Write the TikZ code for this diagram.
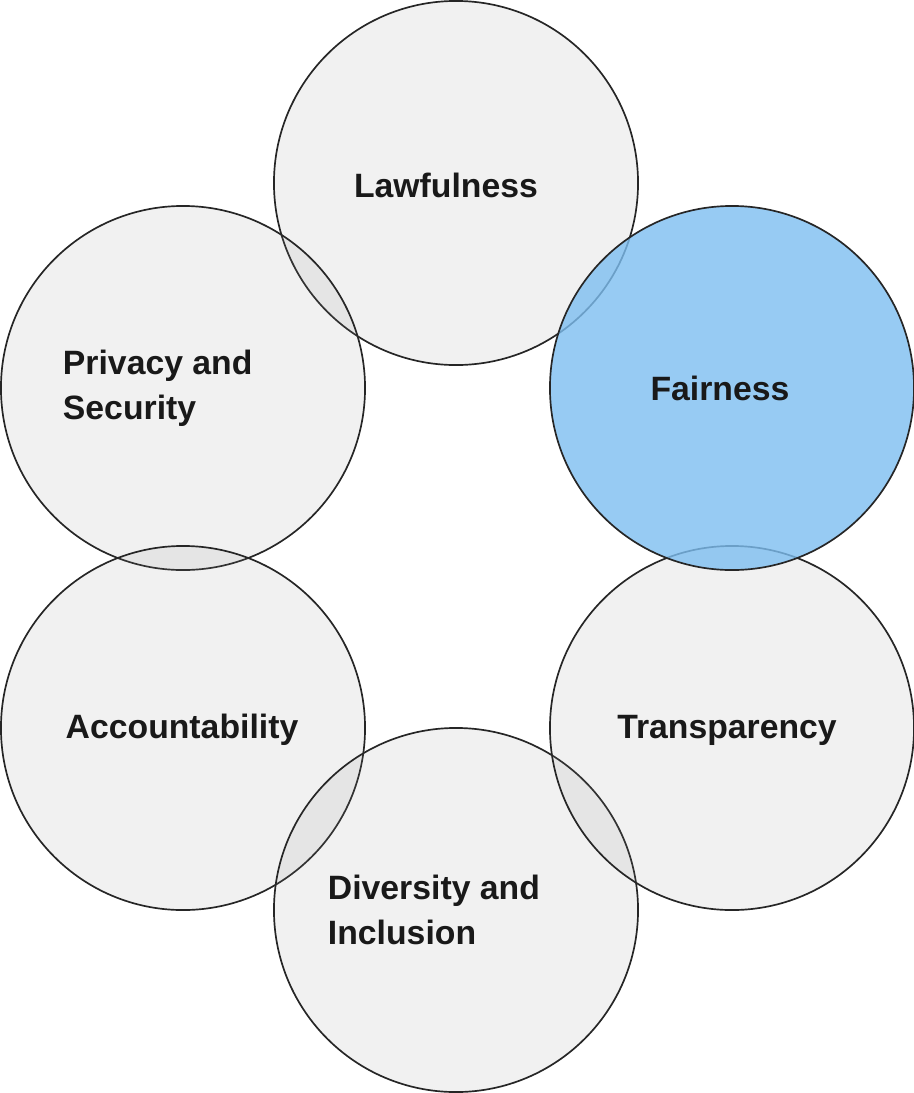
\documentclass[tikz,border=0pt]{standalone}
\usepackage{fontspec}
\setmainfont{Liberation Sans}
\definecolor{ringgray}{HTML}{8C8C8C}
\definecolor{fairblue}{HTML}{7DBEF0}
\tikzset{
  ring/.style={circle,draw=black!85,line width=1.2pt,minimum size=9.1cm,fill=ringgray,fill opacity=0.12,text opacity=1},
  label/.style={font=\fontsize{24}{32}\selectfont\bfseries,align=left,text=black!90}
}
\begin{document}
\begin{tikzpicture}[x=0.025cm,y=-0.025cm]
\useasboundingbox (0,0) rectangle (914,1093);
% rings
\node [ring] (law) at (456,183) {};
\node [ring] (priv) at (183,388) {};
\node [ring] (acc) at (183,728) {};
\node [ring] (div) at (456,910) {};
\node [ring] (trans) at (732,728) {};
\node [ring,fill=fairblue,fill opacity=0.8] (fair) at (732,388) {};
% texts
\node [label] (tlaw) at (446,185) {Lawfulness};
\node [label,anchor=west] (tpriv) at (58,388) {Privacy and\\Security};
\node [label] (tfair) at (720,388) {Fairness};
\node [label] (tacc) at (182,730) {Accountability};
\node [label] (ttrans) at (727,730) {Transparency};
\node [label,anchor=west] (tdiv) at (323,910) {Diversity and\\Inclusion};
\end{tikzpicture}
\end{document}
